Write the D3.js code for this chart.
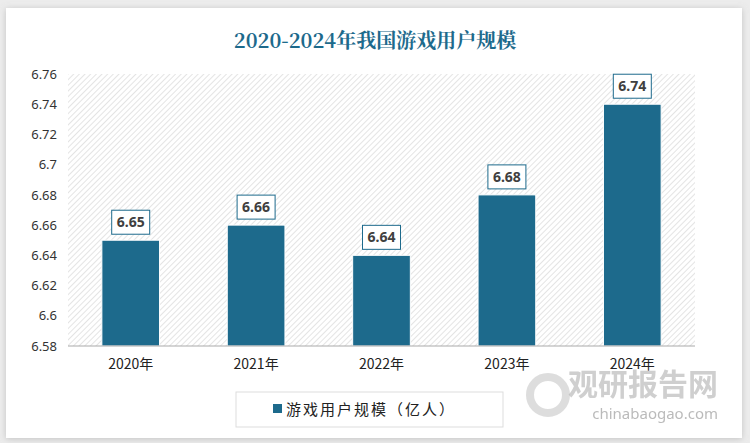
<!DOCTYPE html>
<html><head><meta charset="utf-8">
<script src="https://cdn.jsdelivr.net/npm/d3@7"></script>
<style>body{margin:0;background:#ececec;}</style>
</head><body>
<svg width="750" height="443"></svg>
<script>
var years = ["2020年","2021年","2022年","2023年","2024年"];
var users = [6.65,6.66,6.64,6.68,6.74];
var yTicks = [6.58,6.6,6.62,6.64,6.66,6.68,6.7,6.72,6.74,6.76];

var svg = d3.select("svg");
var defs = svg.append("defs");
var f = defs.append("filter").attr("id","sh").attr("x","-5%").attr("y","-5%").attr("width","110%").attr("height","110%");
f.append("feDropShadow").attr("dx",0).attr("dy",1).attr("stdDeviation",3).attr("flood-color","#999").attr("flood-opacity",0.5);
var pat = defs.append("pattern").attr("id","hatch").attr("width",4).attr("height",4)
  .attr("patternUnits","userSpaceOnUse").attr("patternTransform","rotate(45)");
pat.append("rect").attr("width",4).attr("height",4).attr("fill","#fff");
pat.append("line").attr("x1",0).attr("y1",0).attr("x2",0).attr("y2",4).attr("stroke","#dcdcdc").attr("stroke-width",1.5);

svg.append("rect").attr("x",6).attr("y",8).attr("width",736).attr("height",430).attr("fill","#fff").attr("filter","url(#sh)");

svg.append("text").attr("x",375).attr("y",48).attr("text-anchor","middle")
  .attr("font-family","'Noto Serif CJK SC','Noto Sans CJK SC',serif").attr("font-weight","bold")
  .attr("font-size",20).attr("fill","#1d6a8c").text("2020-2024年我国游戏用户规模");

var pLeft=68,pRight=695,pTop=74,pBottom=346;
var x = d3.scaleBand().domain(years).range([pLeft,pRight]).paddingInner(0.54).paddingOuter(0.27);
var y = d3.scaleLinear().domain([6.58,6.76]).range([pBottom,pTop]);

svg.append("rect").attr("x",pLeft).attr("y",pTop).attr("width",pRight-pLeft).attr("height",pBottom-pTop).attr("fill","url(#hatch)");

var ya = svg.append("g").attr("transform","translate("+(pLeft-8)+",0)")
  .call(d3.axisLeft(y).tickValues(yTicks).tickSize(0).tickFormat(d3.format("~g")));
ya.select(".domain").remove();
ya.selectAll("text").attr("font-family","'Noto Sans',sans-serif").attr("font-size",13).attr("fill","#333");

svg.selectAll(".bar").data(users).enter().append("rect")
  .attr("x",function(d,i){return x(years[i]);})
  .attr("y",function(d){return y(d);})
  .attr("width",x.bandwidth())
  .attr("height",function(d){return pBottom-y(d);})
  .attr("fill","#1d6a8c").attr("stroke","#fff").attr("stroke-width",1);

svg.append("line").attr("x1",pLeft).attr("x2",pRight).attr("y1",pBottom).attr("y2",pBottom).attr("stroke","#aaa");

var lab = svg.selectAll(".lab").data(users).enter().append("g")
  .attr("transform",function(d,i){return "translate("+(x(years[i])+x.bandwidth()/2)+","+(y(d)-18)+")";});
lab.append("rect").attr("x",-19).attr("y",-12).attr("width",38).attr("height",24)
  .attr("fill","#fff").attr("stroke","#1d6a8c").attr("stroke-width",1);
lab.append("text").attr("text-anchor","middle").attr("dy","0.36em")
  .attr("font-family","'Noto Sans',sans-serif").attr("font-weight","bold").attr("font-size",14)
  .attr("fill","#404040").text(function(d){return d.toFixed(2);});

var xa = svg.append("g").attr("transform","translate(0,"+(pBottom+10)+")")
  .call(d3.axisBottom(x).tickSize(0));
xa.select(".domain").remove();
xa.selectAll("text").attr("font-family","'Noto Sans CJK SC',sans-serif").attr("font-size",14).attr("fill","#222");

// watermark
svg.append("circle").attr("cx",548).attr("cy",395).attr("r",18).attr("fill","none")
  .attr("stroke","#bbb").attr("stroke-width",8).attr("opacity",0.5);
svg.append("text").attr("x",718).attr("y",395).attr("text-anchor","end")
  .attr("font-family","'Noto Sans CJK SC',sans-serif").attr("font-weight","bold").attr("font-size",30)
  .attr("fill","#bbb").attr("opacity",0.7).text("观研报告网");
svg.append("text").attr("x",718).attr("y",419).attr("text-anchor","end")
  .attr("font-family","'Noto Sans',sans-serif").attr("font-size",15)
  .attr("fill","#aaa").attr("opacity",0.8).text("chinabaogao.com");

var lg = svg.append("g");
lg.append("rect").attr("x",236).attr("y",392).attr("width",267).attr("height",35).attr("fill","#fff").attr("stroke","#ddd");
lg.append("rect").attr("x",273).attr("y",404).attr("width",9).attr("height",9).attr("fill","#1d6a8c");
lg.append("text").attr("x",286).attr("y",415).attr("font-family","'Noto Sans CJK SC',sans-serif")
  .attr("font-size",15).attr("fill","#222").attr("letter-spacing",2).text("游戏用户规模（亿人）");
</script>
</body></html>
